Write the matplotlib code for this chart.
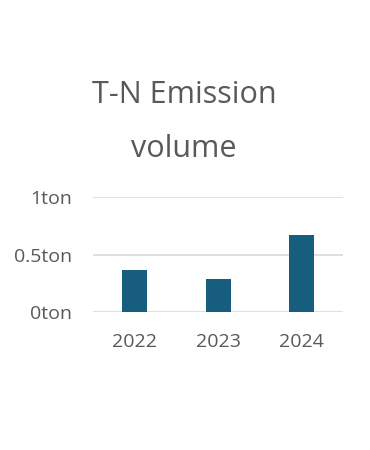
import matplotlib
matplotlib.use("Agg")
import matplotlib.pyplot as plt

years = ["2022", "2023", "2024"]
values = [0.365, 0.284, 0.667]
yticks = [0, 0.5, 1]
ytick_labels = ["0ton", "0.5ton", "1ton"]
title_lines = ["T-N Emission", "volume"]

plt.rcParams['font.family'] = ['Open Sans', 'DejaVu Sans']
text_color = "#595959"

fig = plt.figure(figsize=(3.7, 4.5), dpi=100)
ax = fig.add_axes([93/370, 1-312/450, 250/370, 115/450])

x = range(len(years))
ax.bar(x, values, width=0.3, color="#175E7E", zorder=3)
ax.set_xlim(-0.5, 2.5)
ax.set_ylim(0, 1)
ax.set_yticks(yticks)
ax.set_yticklabels(ytick_labels)
ax.set_xticks(list(x))
ax.set_xticklabels(years)
ax.tick_params(axis='both', length=0, labelsize=14, labelcolor=text_color)
ax.tick_params(axis='y', pad=15)
ax.tick_params(axis='x', pad=15)
for s in ax.spines.values():
    s.set_visible(False)
ax.yaxis.grid(True, color="#d9d9d9", linewidth=1.2, zorder=0)
ax.set_axisbelow(True)

fig.text(184/370, 1-103/450, title_lines[0], ha='center', va='baseline',
         fontsize=22, color=text_color)
fig.text(184/370, 1-157/450, title_lines[1], ha='center', va='baseline',
         fontsize=22, color=text_color)

fig.savefig("out.png", dpi=100, facecolor="white")
